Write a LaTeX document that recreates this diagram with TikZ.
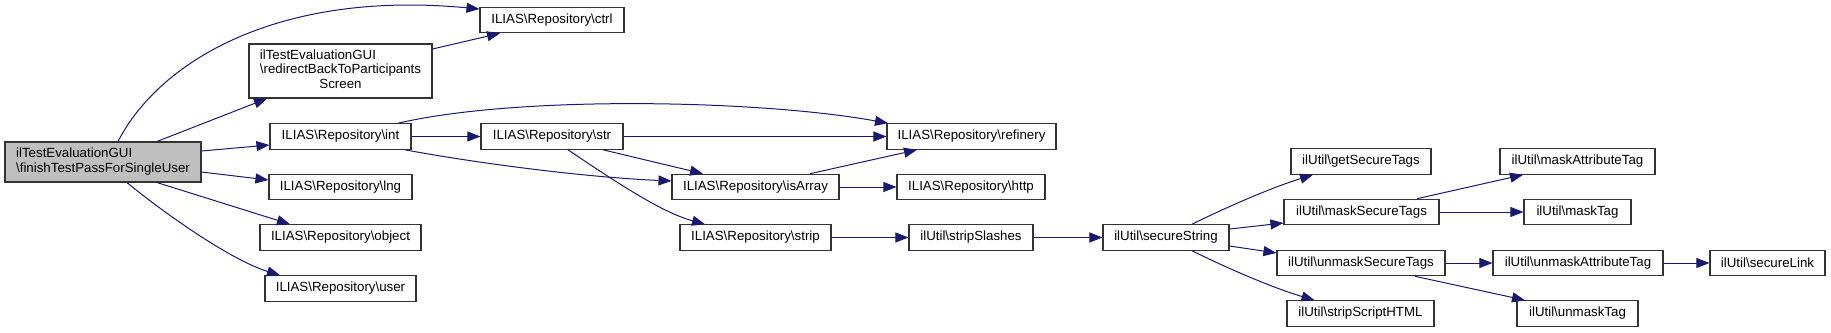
\documentclass[tikz,border=0pt]{standalone}
\usepackage{fontspec}
\setmainfont{Liberation Sans}
\usetikzlibrary{arrows.meta}
\newcommand{\BSL}{\textbackslash}
\definecolor{edgeblue}{HTML}{191970}
\definecolor{boxline}{HTML}{333333}
\definecolor{mainfill}{HTML}{BFBFBF}
\begin{document}
\begin{tikzpicture}[x=1pt,y=-1pt,
  fnode/.style={draw=boxline,line width=1.1pt,fill=white,inner sep=0pt,minimum height=25.5pt,
     font=\fontsize{13.3}{14.5}\selectfont},
  call/.style={draw=edgeblue,line width=1pt,-{Triangle[length=13pt,width=10pt]},fill=none}]
\useasboundingbox (0,0) rectangle (1831,332);
% nodes
\node[fnode,fill=mainfill,minimum width=196pt,minimum height=40pt] (main) at (103,162)
  {\begin{tabular}{@{}l@{}}ilTestEvaluationGUI\\ \BSL finishTestPassForSingleUser\end{tabular}};
\node[fnode,minimum width=183pt,minimum height=54pt] (redirect) at (340.5,71)
  {\begin{tabular}{@{}l@{}}ilTestEvaluationGUI\\ \BSL redirectBackToParticipants\\ \multicolumn{1}{@{}c@{}}{Screen}\end{tabular}};
\node[fnode,minimum width=144pt] (ctrl) at (552,20) {ILIAS\BSL Repository\BSL ctrl};
\node[fnode,minimum width=141pt] (int) at (340.5,136.5) {ILIAS\BSL Repository\BSL int};
\node[fnode,minimum width=143pt] (lng) at (340.5,187) {ILIAS\BSL Repository\BSL lng};
\node[fnode,minimum width=161pt] (object) at (340.5,237.5) {ILIAS\BSL Repository\BSL object};
\node[fnode,minimum width=151pt] (user) at (340.5,288.5) {ILIAS\BSL Repository\BSL user};
\node[fnode,minimum width=142pt] (str) at (552,136.5) {ILIAS\BSL Repository\BSL str};
\node[fnode,minimum width=167pt] (isArray) at (755.5,187) {ILIAS\BSL Repository\BSL isArray};
\node[fnode,minimum width=151pt] (strip) at (755.5,237.5) {ILIAS\BSL Repository\BSL strip};
\node[fnode,minimum width=169pt] (refinery) at (971.5,136.5) {ILIAS\BSL Repository\BSL refinery};
\node[fnode,minimum width=148pt] (http) at (971,187) {ILIAS\BSL Repository\BSL http};
\node[fnode,minimum width=124pt] (stripSlashes) at (971,237.5) {ilUtil\BSL stripSlashes};
\node[fnode,minimum width=126pt] (secureString) at (1166,237.5) {ilUtil\BSL secureString};
\node[fnode,minimum width=140pt] (getSecureTags) at (1361,161.5) {ilUtil\BSL getSecureTags};
\node[fnode,minimum width=155pt] (maskSecureTags) at (1361.5,212) {ilUtil\BSL maskSecureTags};
\node[fnode,minimum width=168pt] (unmaskSecureTags) at (1361,263) {ilUtil\BSL unmaskSecureTags};
\node[fnode,minimum width=147pt] (stripScriptHTML) at (1360.5,313.5) {ilUtil\BSL stripScriptHTML};
\node[fnode,minimum width=155pt] (maskAttributeTag) at (1577.5,161.5) {ilUtil\BSL maskAttributeTag};
\node[fnode,minimum width=107pt] (maskTag) at (1577.5,212) {ilUtil\BSL maskTag};
\node[fnode,minimum width=170pt] (unmaskAttributeTag) at (1578,263) {ilUtil\BSL unmaskAttributeTag};
\node[fnode,minimum width=115pt] (secureLink) at (1767.5,263) {ilUtil\BSL secureLink};
\node[fnode,minimum width=121pt] (unmaskTag) at (1577.5,313.5) {ilUtil\BSL unmaskTag};
% edges
\draw[call] ([shift={(15,0)}]main.north) .. controls (160,60) and (280,-10) .. ([shift={(0,-11)}]ctrl.west);
\draw[call] ([shift={(54,0)}]main.north) -- ([shift={(-73.5,0)}]redirect.south);
\draw[call] ([shift={(0,-11)}]main.east) -- ([shift={(0,8.5)}]int.west);
\draw[call] ([shift={(0,10)}]main.east) -- ([shift={(0,-7)}]lng.west);
\draw[call] ([shift={(54,0)}]main.south) -- ([shift={(-50.5,0)}]object.north);
\draw[call] ([shift={(24,0)}]main.south) .. controls (160,210) and (230,260) .. ([shift={(-60.5,0)}]user.north);
\draw[call] ([shift={(0,-22)}]redirect.east) -- ([shift={(-52,0)}]ctrl.south);
\draw[call] ([shift={(57.5,0)}]int.north) .. controls (520,95) and (760,100) .. ([shift={(-83.5,0)}]refinery.north);
\draw[call] (int.east) -- (str.west);
\draw[call] ([shift={(64.5,0)}]int.south) .. controls (470,162) and (580,177) .. ([shift={(0,-6)}]isArray.west);
\draw[call] (str.east) -- (refinery.west);
\draw[call] ([shift={(51,0)}]str.south) -- ([shift={(-52.5,0)}]isArray.north);
\draw[call] ([shift={(16,0)}]str.south) .. controls (610,178) and (660,212) .. ([shift={(-50.5,0)}]strip.north);
\draw[call] ([shift={(54.5,0)}]isArray.north) -- ([shift={(-54.5,0)}]refinery.south);
\draw[call] (isArray.east) -- (http.west);
\draw[call] (strip.east) -- (stripSlashes.west);
\draw[call] (stripSlashes.east) -- (secureString.west);
\draw[call] ([shift={(26,0)}]secureString.north) .. controls (1225,208) and (1270,188) .. ([shift={(-48,0)}]getSecureTags.south);
\draw[call] ([shift={(0,-8.5)}]secureString.east) -- ([shift={(0,11)}]maskSecureTags.west);
\draw[call] ([shift={(0,8.5)}]secureString.east) -- ([shift={(0,-10)}]unmaskSecureTags.west);
\draw[call] ([shift={(26,0)}]secureString.south) .. controls (1225,267) and (1270,287) .. ([shift={(-46,0)}]stripScriptHTML.north);
\draw[call] ([shift={(55.5,0)}]maskSecureTags.north) -- ([shift={(-54.5,0)}]maskAttributeTag.south);
\draw[call] (maskSecureTags.east) -- (maskTag.west);
\draw[call] (unmaskSecureTags.east) -- (unmaskAttributeTag.west);
\draw[call] ([shift={(54,0)}]unmaskSecureTags.south) -- ([shift={(-52.5,0)}]unmaskTag.north);
\draw[call] (unmaskAttributeTag.east) -- (secureLink.west);
\end{tikzpicture}
\end{document}
